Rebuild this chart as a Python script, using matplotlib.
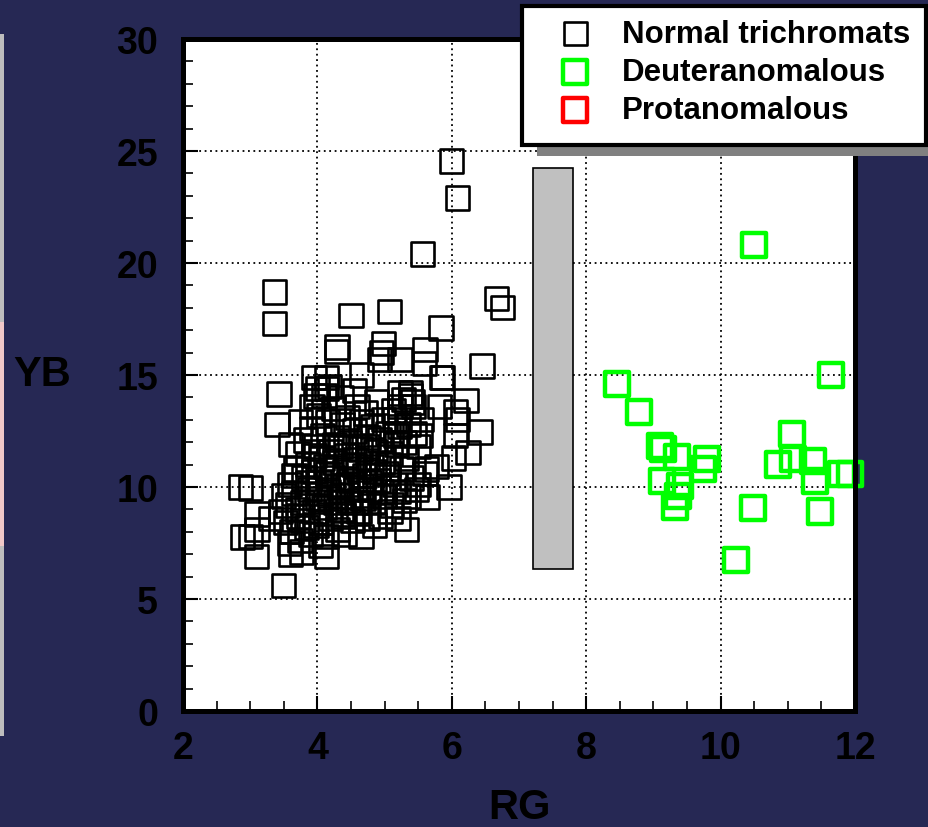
import numpy as np
import matplotlib.pyplot as plt
from matplotlib.patches import Rectangle

# datos: tricrómatas normales (RG, YB)
normal_x = [5.99, 6.08, 5.56, 3.36, 3.36, 6.67, 6.76, 4.50, 5.07, 5.84,
            4.29, 4.28, 4.98, 4.95, 4.92, 5.23, 5.60, 5.59, 6.45, 3.95,
            4.13, 5.86, 4.66, 3.43, 4.00, 4.18, 3.97, 5.38, 5.42, 5.23,
            6.21, 6.06, 6.08, 6.42, 6.24, 6.03, 5.96, 3.40, 2.86, 3.01,
            2.89, 3.00, 3.09, 3.50, 3.60, 3.76, 4.14, 5.33, 4.75, 5.08,
            5.64, 5.77, 5.62, 5.53, 5.17, 3.10, 3.30, 3.10, 5.23, 5.38,
            5.82, 6.05, 4.14, 5.85,
            3.52, 3.55, 3.58, 3.62, 3.65, 3.68, 3.70, 3.72, 3.74, 3.78,
            3.80, 3.82, 3.84, 3.86, 3.88, 3.90, 3.92, 3.94, 3.96, 3.98,
            4.00, 4.02, 4.03, 4.05, 4.07, 4.08, 4.10, 4.12, 4.14, 4.15,
            4.17, 4.19, 4.20, 4.22, 4.24, 4.25, 4.27, 4.29, 4.30, 4.32,
            4.34, 4.36, 4.37, 4.39, 4.41, 4.43, 4.45, 4.46, 4.48, 4.50,
            4.52, 4.54, 4.55, 4.57, 4.59, 4.61, 4.62, 4.64, 4.66, 4.68,
            4.70, 4.72, 4.74, 4.76, 4.78, 4.80, 4.82, 4.84, 4.86, 4.88,
            4.90, 4.92, 4.94, 4.96, 4.98, 5.00, 5.03, 5.05, 5.08, 5.10,
            5.13, 5.15, 5.18, 5.20, 5.22, 5.25, 5.28, 5.30, 5.33, 5.36,
            5.40, 5.43, 5.47, 5.50, 5.55, 5.60, 3.60, 3.75, 3.92, 4.10,
            4.35, 4.55, 3.50, 3.45, 3.58, 4.05, 4.40, 4.85, 5.20, 4.65,
            3.70, 3.85, 3.95, 4.05, 4.15, 4.25, 4.35, 4.45, 4.55, 4.65,
            4.75, 4.85, 4.95, 5.05, 3.78, 3.98, 4.18, 4.38, 4.58, 4.78,
            5.45, 5.30, 5.15, 3.65, 5.35, 5.50]
normal_y = [24.55, 22.90, 20.40, 18.70, 17.30, 18.40, 18.00, 17.65, 17.85, 17.10,
            16.25, 16.05, 16.40, 16.00, 15.70, 15.70, 16.15, 15.50, 15.40, 14.90,
            14.90, 14.90, 15.00, 14.15, 14.40, 14.50, 14.06, 14.06, 13.80, 13.60,
            13.85, 13.35, 13.00, 12.45, 11.55, 11.30, 10.00, 12.80, 10.00, 9.96,
            7.77, 7.80, 6.90, 5.60, 7.00, 7.10, 6.90, 8.10, 8.60, 8.90,
            9.55, 10.90, 10.80, 12.30, 12.30, 8.10, 8.60, 8.80, 14.20, 14.20,
            13.60, 12.30, 14.40, 14.90,
            8.4, 9.2, 10.1, 8.0, 9.7, 10.8, 11.5, 8.7, 7.6, 9.3,
            10.4, 12.1, 8.2, 11.0, 9.9, 7.9, 12.6, 10.7, 8.9, 11.8,
            9.5, 13.2, 10.2, 8.4, 11.3, 12.3, 9.1, 10.9, 7.8, 12.9,
            9.8, 11.6, 8.6, 10.4, 13.5, 11.1, 9.3, 12.2, 8.1, 10.0,
            11.8, 9.6, 12.8, 8.8, 10.7, 11.4, 13.1, 9.4, 12.0, 10.3,
            8.5, 11.0, 12.5, 9.9, 13.6, 10.8, 8.9, 11.7, 12.9, 9.5,
            10.5, 13.3, 11.3, 12.2, 9.9, 10.9, 12.7, 9.3, 11.6, 13.8,
            10.3, 12.1, 8.7, 11.1, 13.0, 9.6, 10.6, 12.4, 11.5, 9.2,
            13.4, 10.1, 11.9, 9.8, 12.7, 10.8, 13.9, 9.4, 11.3, 12.8,
            10.4, 13.6, 9.9, 11.8, 13.0, 10.6, 11.9, 12.9, 13.6, 14.1,
            14.0, 14.3, 9.6, 8.9, 7.5, 7.4, 7.9, 8.3, 8.6, 7.8,
            9.0, 10.2, 11.4, 9.7, 10.6, 11.9, 9.0, 10.1, 11.2, 10.0,
            11.8, 10.7, 9.8, 11.0, 8.5, 8.3, 9.5, 8.7, 9.3, 10.2,
            12.4, 12.0, 13.0, 10.5, 9.6, 10.1]

# datos: deuteranómalos
deut_x = [10.50, 8.46, 8.79, 9.10, 9.14, 9.35, 9.80, 9.74, 9.13, 9.40,
          9.37, 9.32, 10.48, 10.23, 11.06, 10.85, 11.08, 11.38, 11.40, 11.48,
          11.64, 11.80, 11.93]
deut_y = [20.80, 14.60, 13.35, 11.83, 11.70, 11.35, 11.25, 10.80, 10.27, 10.05,
          9.60, 9.10, 9.05, 6.74, 12.37, 11.00, 11.25, 11.15, 10.27, 8.90,
          15.00, 10.58, 10.58]

# protanómalos: sin puntos, solo en la leyenda
prot_x, prot_y = [], []

# banda gris (zona de separación)
band_x, band_w = 7.505, 0.59
band_lo, band_hi = 6.34, 24.24

# colores
bg = '#262854'
clr_n = 'black'
clr_d = '#00ff00'
clr_p = '#ff0000'

W, H = 929, 828
plt.rcParams['font.family'] = ['Liberation Sans', 'DejaVu Sans']
plt.rcParams['font.weight'] = 'bold'

fig = plt.figure(figsize=(W/100, H/100), dpi=100)
fig.patch.set_facecolor(bg)
ax = fig.add_axes([183/W, 1 - 712/H, (855-183)/W, (712-40)/H])
ax.set_facecolor('white')

ax.scatter(normal_x, normal_y, s=280, marker='s', facecolors='none',
           edgecolors=clr_n, linewidths=1.9, zorder=4, clip_on=False,
           label='Normal trichromats')
ax.scatter(deut_x, deut_y, s=306, marker='s', facecolors='none',
           edgecolors=clr_d, linewidths=3.2, zorder=5, clip_on=False,
           label='Deuteranomalous')
ax.scatter(prot_x, prot_y, s=306, marker='s', facecolors='none',
           edgecolors=clr_p, linewidths=3.2, zorder=5,
           label='Protanomalous')

ax.bar(band_x, band_hi - band_lo, bottom=band_lo, width=band_w,
       color='#c0c0c0', edgecolor='black', linewidth=1.2, zorder=3)

ax.set_xlim(2, 12); ax.set_xticks(np.arange(2, 13, 2))
ax.set_xticks(np.arange(2, 12.01, 0.5), minor=True)
ax.set_ylim(0, 30); ax.set_yticks(np.arange(0, 31, 5))
ax.set_yticks(np.arange(0, 31, 1), minor=True)
ax.grid(True, which='major', color='black', linestyle=(0, (1, 2)), linewidth=1.3)
ax.set_axisbelow(True)

ax.tick_params(which='major', direction='in', length=11, width=1.5,
               labelsize=27, colors='black')
ax.tick_params(axis='x', which='major', pad=14)
ax.tick_params(axis='y', which='major', pad=18)
ax.tick_params(which='minor', direction='in', length=7, width=1.2)
for lb in ax.get_xticklabels() + ax.get_yticklabels():
    lb.set_fontweight('bold')
for sp in ax.spines.values():
    sp.set_linewidth(3.6)
    sp.set_zorder(6)

fig.text(42/W, 1 - 375/H, 'YB', fontsize=30, fontweight='bold',
         ha='center', va='center')
fig.text(520/W, 1 - 808/H, 'RG', fontsize=30, fontweight='bold',
         ha='center', va='center')

# tira lateral izquierda
fig.add_artist(Rectangle((0, 1 - 737/H), 4/W, 702/H, transform=fig.transFigure,
                         facecolor='#bdbdbd', edgecolor='none'))
fig.add_artist(Rectangle((0, 1 - 547/H), 4/W, 224/H, transform=fig.transFigure,
                         facecolor='#f0c8c8', edgecolor='none'))

# recuadro de la leyenda con sombra
fig.add_artist(Rectangle((537/W, 1 - 157/H), (940-537)/W, 140/H,
                         transform=fig.transFigure, facecolor='#808080',
                         edgecolor='none', zorder=8))
fig.add_artist(Rectangle((522/W, 1 - 146/H), (926-522)/W, 139/H,
                         transform=fig.transFigure, facecolor='white',
                         edgecolor='black', linewidth=3, zorder=9))
leg = fig.legend(loc='center left', bbox_to_anchor=(522/W, 1 - 73/H),
                 frameon=False, fontsize=22.5, borderpad=0.70, borderaxespad=0,
                 handlelength=2, handletextpad=0.5, labelspacing=0.26,
                 scatterpoints=1)
leg.set_zorder(10)
for txt in leg.get_texts():
    txt.set_fontweight('bold')

plt.savefig('out.png', dpi=100, facecolor=bg)
